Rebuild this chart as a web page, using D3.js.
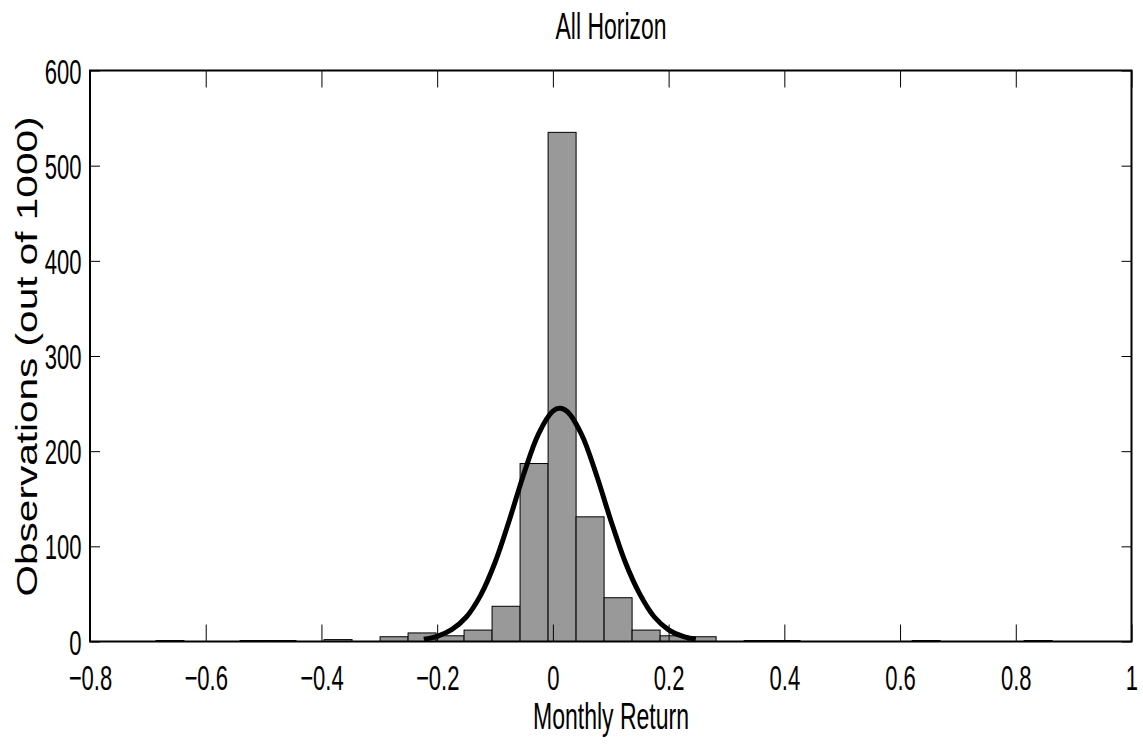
<!DOCTYPE html>
<html>
<head>
<meta charset="utf-8">
<script src="https://cdn.jsdelivr.net/npm/d3@7"></script>
<style>
  body { margin: 0; background: #fff; }
  svg { display: block; }
  text { font-family: "Liberation Sans", Arial, sans-serif; fill: #000; }
</style>
</head>
<body>
<script>
//   Histogram bins (centres) and counts out of 1000
const binCenters = [
  -0.6617, -0.6133, -0.5649, -0.5165, -0.4681, -0.4197, -0.3713, -0.3229,
  -0.2745, -0.2261, -0.1777, -0.1293, -0.0809, -0.0325, 0.0159, 0.0643,
  0.1127, 0.1611, 0.2095, 0.2579, 0.3063, 0.3547, 0.4031, 0.4515,
  0.4999, 0.5483, 0.5967, 0.6451, 0.6935, 0.7419, 0.7903, 0.8387
];
const counts = [
  1, 0, 0, 1, 1, 0, 2, 0,
  5, 9, 6, 12, 37, 187, 535, 131,
  46, 12, 6, 5, 0, 1, 1, 0,
  0, 0, 0, 1, 0, 0, 0, 1
];
const binWidth = 0.0484;

//   Fitted normal curve
const fitX = [
  -0.223, -0.2, -0.175, -0.15, -0.125, -0.1, -0.075, -0.05, -0.025, 0, 0.012,
  0.025, 0.05, 0.075, 0.1, 0.125, 0.15, 0.175, 0.2, 0.225, 0.247
];
const fitY = [
  2.3, 5.5, 12.5, 25.5, 48.5, 83, 128, 176.5, 218, 242, 245,
  241.5, 217, 175.5, 127.5, 83.5, 50, 26, 12.3, 5.3, 2.3
];

const xTicks = [-0.8, -0.6, -0.4, -0.2, 0, 0.2, 0.4, 0.6, 0.8, 1];
const yTicks = [0, 100, 200, 300, 400, 500, 600];

//   Parameters
const w = 1143;
const h = 747;
const plotLeft = 90;
const plotRight = 1131.5;
const plotTop = 70.5;
const plotBottom = 641.5;
const squeeze = 0.63;

const svg = d3
  .select("body")
  .append("svg")
  .attr("width", w)
  .attr("height", h);

const xScale = d3.scaleLinear().domain([-0.8, 1]).range([plotLeft, plotRight]);
const yScale = d3.scaleLinear().domain([0, 600]).range([plotBottom, plotTop]);

//   Bars
svg
  .append("g")
  .selectAll("rect")
  .data(counts)
  .enter()
  .append("rect")
  .attr("x", (d, i) => xScale(binCenters[i] - binWidth / 2))
  .attr("width", (d, i) =>
    xScale(binCenters[i] + binWidth / 2) - xScale(binCenters[i] - binWidth / 2))
  .attr("y", (d) => yScale(d))
  .attr("height", (d) => yScale(0) - yScale(d))
  .attr("fill", "#999999")
  .attr("stroke", "#000")
  .attr("stroke-width", 1);

//   Normal fit
const line = d3
  .line()
  .x((d, i) => xScale(fitX[i]))
  .y((d) => yScale(d))
  .curve(d3.curveCatmullRom);

svg
  .append("path")
  .datum(fitY)
  .attr("d", line)
  .attr("fill", "none")
  .attr("stroke", "#000")
  .attr("stroke-width", 5);

//   AXIS
const fmt = d3.format("~g");

const xAxis = svg
  .append("g")
  .attr("transform", "translate(0," + plotBottom + ")")
  .call(d3.axisBottom(xScale).tickValues(xTicks).tickSize(-17).tickSizeOuter(0).tickFormat(fmt));

xAxis
  .selectAll(".tick text")
  .attr("y", 48.5)
  .attr("dy", 0)
  .attr("font-size", 35)
  .attr("transform", "scale(" + squeeze + ",1)");

const yAxis = svg
  .append("g")
  .attr("transform", "translate(" + plotLeft + ",0)")
  .call(d3.axisLeft(yScale).tickValues(yTicks).tickSize(-10).tickSizeOuter(0));

yAxis
  .selectAll(".tick text")
  .attr("x", 0)
  .attr("dy", "0.36em")
  .attr("font-size", 35)
  .attr("transform", "translate(-8.5,0) scale(" + squeeze + ",1)");

svg
  .append("g")
  .attr("transform", "translate(0," + plotTop + ")")
  .call(d3.axisTop(xScale).tickValues(xTicks).tickSize(-17).tickSizeOuter(0).tickFormat(""));

svg
  .append("g")
  .attr("transform", "translate(" + plotRight + ",0)")
  .call(d3.axisRight(yScale).tickValues(yTicks).tickSize(-10).tickSizeOuter(0).tickFormat(""));

svg.selectAll(".domain").remove();
svg.selectAll(".tick line").attr("stroke", "#000").attr("stroke-width", 1);
svg.selectAll("g").attr("font-family", null);
svg.selectAll(".tick text").attr("fill", "#000");

//   Frame
svg
  .append("rect")
  .attr("x", plotLeft)
  .attr("y", plotTop)
  .attr("width", plotRight - plotLeft)
  .attr("height", plotBottom - plotTop)
  .attr("fill", "none")
  .attr("stroke", "#000")
  .attr("stroke-width", 2);

//   Titles
svg
  .append("text")
  .attr("x", 611)
  .attr("y", 39.3)
  .attr("text-anchor", "middle")
  .attr("font-size", 37)
  .attr("textLength", 111)
  .attr("lengthAdjust", "spacingAndGlyphs")
  .text("All Horizon");

svg
  .append("text")
  .attr("x", 611)
  .attr("y", 729)
  .attr("text-anchor", "middle")
  .attr("font-size", 37)
  .attr("textLength", 156)
  .attr("lengthAdjust", "spacingAndGlyphs")
  .text("Monthly Return");

svg
  .append("text")
  .attr("transform", "translate(36.5,356.5) rotate(-90)")
  .attr("text-anchor", "middle")
  .attr("font-size", 29)
  .attr("textLength", 480)
  .attr("lengthAdjust", "spacingAndGlyphs")
  .text("Observations (out of 1000)");
</script>
</body>
</html>
